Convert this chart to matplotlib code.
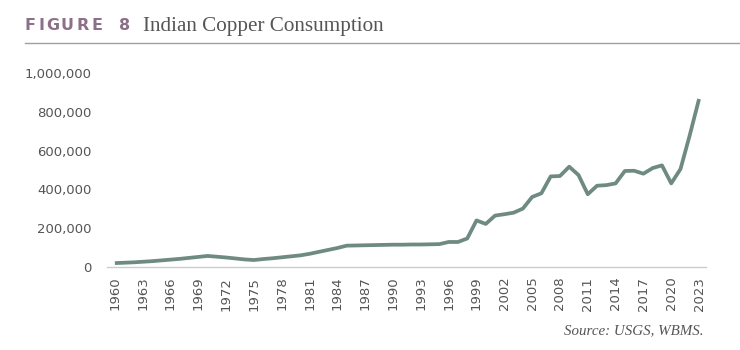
import matplotlib
matplotlib.use("Agg")
import matplotlib.pyplot as plt
from matplotlib.lines import Line2D
from matplotlib.ticker import FuncFormatter

years = list(range(1960, 2024))
consumption = [
    20000, 22000, 24000, 27000, 30000, 34000, 38000, 42000, 47000, 52000,
    57000, 53000, 49000, 44000, 39000, 36000, 41000, 45000, 50000, 55000,
    60000, 68000, 78000, 88000, 98000, 110000, 111000, 112000, 113000, 114000,
    115000, 115000, 116000, 116000, 117000, 118000, 129000, 129000, 147000, 240000,
    222000, 265000, 272000, 280000, 301000, 361000, 380000, 467000, 469000, 517000,
    474000, 375000, 419000, 422000, 431000, 495000, 496000, 481000, 510000, 524000,
    431000, 505000, 680000, 866000,
]
xtick_years = list(range(1960, 2024, 3))
yticks = [0, 200000, 400000, 600000, 800000, 1000000]

title_letters = ["F", "I", "G", "U", "R", "E", "8"]
title_text = "Indian Copper Consumption"
source_text = "Source: USGS, WBMS."

W, H = 740, 350
fig = plt.figure(figsize=(7.4, 3.5), dpi=100)
fig.patch.set_facecolor("white")

ax = fig.add_axes([107 / W, 1 - 267 / H, (706 - 107) / W, (267 - 73) / H])
ax.plot(years, consumption, color="#6f8a83", lw=2.7, solid_capstyle="butt", solid_joinstyle="round")
ax.set_xlim(1959.15, 2023.75)
ax.set_ylim(0, 1000000)
ax.set_xticks(xtick_years)
ax.set_xticklabels([str(y) for y in xtick_years], rotation=90, fontsize=9.5, color="#555555", family="DejaVu Sans")
ax.set_yticks(yticks)
ax.yaxis.set_major_formatter(FuncFormatter(lambda v, p: f"{int(v):,}"))
for lab in ax.get_yticklabels():
    lab.set_fontsize(9.5)
    lab.set_color("#555555")
ax.tick_params(axis="both", length=0)
ax.tick_params(axis="y", pad=11)
ax.tick_params(axis="x", pad=7)
for s in ["top", "right", "left"]:
    ax.spines[s].set_visible(False)
ax.spines["bottom"].set_color("#cccccc")
ax.spines["bottom"].set_linewidth(1)
ax.set_facecolor("white")

# Title
letter_x = [24.5, 39, 46, 61, 77, 91.5, 119.5]
for ch, x in zip(title_letters, letter_x):
    fig.text(x / W, 1 - 30.5 / H, ch, fontsize=11.5, fontweight="bold", color="#8c7088",
             family="DejaVu Sans", ha="left", va="baseline")
fig.text(143 / W, 1 - 30.5 / H, title_text, fontsize=15.2, color="#555555",
         family="Liberation Serif", ha="left", va="baseline")
fig.add_artist(Line2D([25 / W, 1.0], [1 - 43 / H, 1 - 43 / H], color="#a0a0a0", lw=1,
                      transform=fig.transFigure))

fig.text(703 / W, 1 - 334 / H, source_text, fontsize=10.8, style="italic", color="#555555",
         family="Liberation Serif", ha="right", va="baseline")

fig.savefig("out.png", dpi=100, facecolor="white")
